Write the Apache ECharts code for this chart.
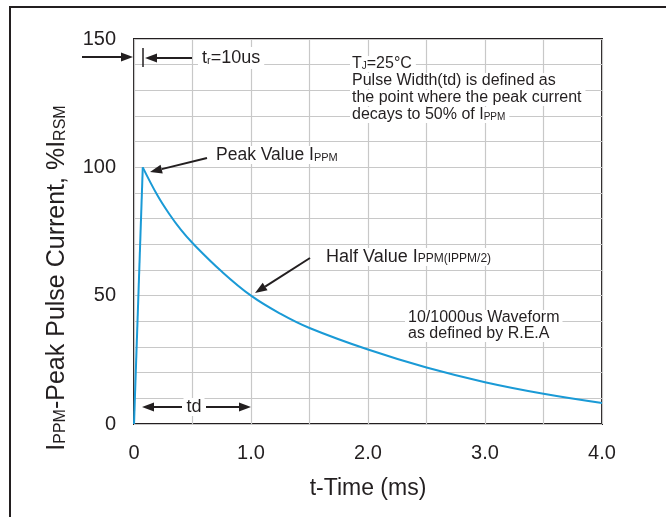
<!DOCTYPE html>
<html>
<head>
<meta charset="utf-8">
<style>
  html, body { margin: 0; padding: 0; background: #fff; }
  #chart { width: 666px; height: 517px; }
</style>
<script src="https://cdn.jsdelivr.net/npm/echarts@6/dist/echarts.min.js"></script>
</head>
<body>
<div id="chart"></div>
<script>
// ===== datos =====
// subida 0 -> pico (tr)
const riseTime = [0, 0.075];
const riseVal = [0, 100];
// caída 10/1000us
const decayTime = [0.075, 0.2, 0.3, 0.4, 0.5, 0.75, 1.0, 1.25, 1.5, 2.0, 2.5, 3.0, 3.5, 4.0];
const decayVal = [100, 89.1, 81.9, 75.7, 70.5, 59.4, 50, 43, 37.4, 29, 22, 16.3, 11.8, 8.2];
const xTicks = [0, 1, 2, 3, 4];
const yTicks = [0, 50, 100, 150];

const INK = '#231f20';
const BLUE = '#1a9ad6';
const FONT = '"Liberation Sans", Arial, sans-serif';

const pairs = (xs, ys) => xs.map((x, i) => [x, ys[i]]);

// ---- flecha: línea + cabeza triangular en (x2,y2) ----
function arrow(x1, y1, x2, y2) {
  const a = Math.atan2(y2 - y1, x2 - x1), L = 12, W = 4.5;
  const bx = x2 - L * Math.cos(a), by = y2 - L * Math.sin(a);
  const px = -Math.sin(a) * W, py = Math.cos(a) * W;
  return [
    { type: 'line', shape: { x1, y1, x2: bx, y2: by }, style: { stroke: INK, lineWidth: 2 }, z: 10 },
    { type: 'polygon', shape: { points: [[x2, y2], [bx + px, by + py], [bx - px, by - py]] },
      style: { fill: INK }, z: 10 },
  ];
}
function label(x, y, text, size, extra, subRatio) {
  return {
    type: 'text', x, y, z: 11,
    style: Object.assign({
      text, fill: INK, fontSize: size, fontFamily: FONT,
      backgroundColor: '#fff', verticalAlign: 'middle',
      rich: { s: { fontSize: Math.round(size * (subRatio || 0.62)), fontFamily: FONT, fill: INK,
        verticalAlign: 'bottom', padding: [0, 0, 1, 0] } },
    }, extra || {}),
  };
}

const chart = echarts.init(document.getElementById('chart'), null, { renderer: 'canvas' });

const yName = label(57, 278, 'I{s|PPM}-Peak Pulse Current, %I{s|RSM}', 25,
  { align: 'center', backgroundColor: 'transparent' });
yName.rotation = Math.PI / 2;

const graphic = [
  { type: 'rect', shape: { x: 10, y: 7, width: 700, height: 560 },
    style: { fill: 'none', stroke: INK, lineWidth: 2 }, z: 0 },
  // flecha "150"
  ...arrow(82, 57, 133, 57),
  // tr = 10us
  { type: 'line', shape: { x1: 143, y1: 48, x2: 143, y2: 67 }, style: { stroke: INK, lineWidth: 1.5 }, z: 10 },
  ...arrow(192, 58, 145, 58),
  label(198, 58, 't{s|r}=10us', 18, { padding: [2, 4, 2, 4] }),
  // bloque de notas
  label(350, 64, 'T{s|J}=25°C', 16, { padding: [0, 4, 0, 2] }),
  label(350, 81, 'Pulse Width(td) is defined as', 16, { padding: [0, 4, 0, 2] }),
  label(350, 98, 'the point where the peak current', 16, { padding: [0, 4, 0, 2] }),
  label(350, 115, 'decays to 50% of I{s|PPM}', 16, { padding: [0, 4, 0, 2] }),
  // Peak Value
  ...arrow(207, 158, 150, 172),
  label(214, 155, 'Peak Value I{s|PPM}', 17.5, { padding: [0, 2, 0, 2] }),
  // Half Value
  ...arrow(310, 258, 255, 293),
  label(324, 257, 'Half Value I{s|PPM(IPPM/2)}', 18, { padding: [0, 2, 0, 2] }, 0.68),
  // forma de onda
  label(405, 318, '10/1000us Waveform', 16, { padding: [0, 3, 0, 3] }),
  label(405, 334, 'as defined by R.E.A', 16, { padding: [0, 3, 0, 3] }),
  // td
  ...arrow(182, 407, 142, 407),
  ...arrow(206, 407, 251, 407),
  label(194, 407, 'td', 18, { align: 'center', padding: [0, 3, 0, 3] }),
  // título eje Y
  yName,
];

chart.setOption({
  animation: false,
  grid: { left: 134, top: 39, right: 64, bottom: 93, show: true, borderColor: INK, borderWidth: 2, backgroundColor: 'transparent' },
  xAxis: {
    type: 'value', min: 0, max: 4, interval: 0.5,
    name: 't-Time (ms)', nameLocation: 'middle', nameGap: 53,
    nameTextStyle: { color: INK, fontSize: 23, fontFamily: FONT },
    axisLine: { show: false }, axisTick: { show: false },
    axisLabel: { color: INK, fontSize: 20, fontFamily: FONT, margin: 19,
      formatter: v => xTicks.includes(v) ? (v === 0 ? '0' : v.toFixed(1)) : '' },
    splitLine: { show: true, lineStyle: { color: '#c8c8c8', width: 1.2 } },
  },
  yAxis: {
    type: 'value', min: 0, max: 150, interval: 10,
    axisLine: { show: false }, axisTick: { show: false },
    axisLabel: { color: INK, fontSize: 20, fontFamily: FONT, margin: 18,
      formatter: v => yTicks.includes(v) ? String(v) : '' },
    splitLine: { show: true, lineStyle: { color: '#c8c8c8', width: 1.2 } },
  },
  series: [
    { type: 'line', data: pairs(riseTime, riseVal), symbol: 'none',
      lineStyle: { color: BLUE, width: 2 }, z: 3 },
    { type: 'line', data: pairs(decayTime, decayVal), symbol: 'none', smooth: 0.4,
      lineStyle: { color: BLUE, width: 2 }, z: 3 },
  ],
  graphic,
});
</script>
</body>
</html>
